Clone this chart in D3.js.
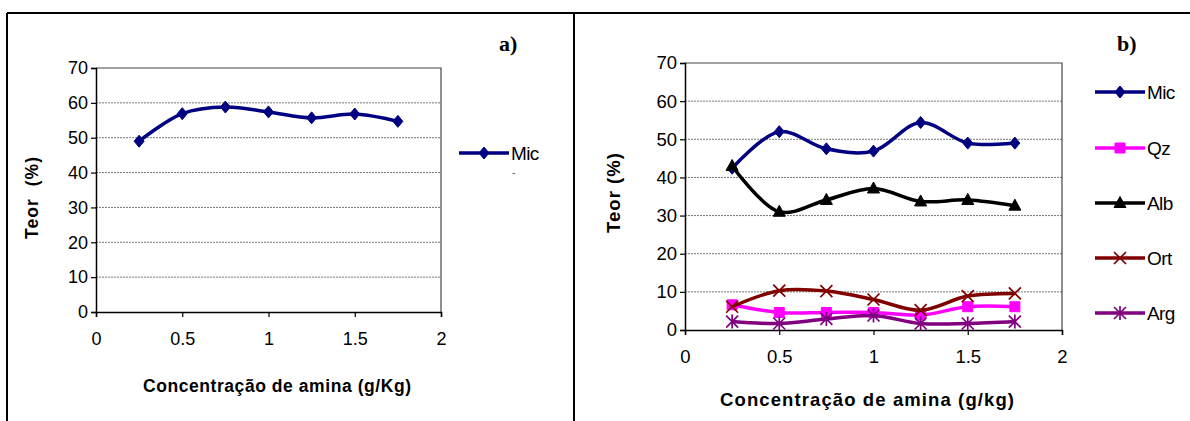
<!DOCTYPE html>
<html>
<head>
<meta charset="utf-8">
<script src="https://cdn.jsdelivr.net/npm/d3@7"></script>
<style>
  body { margin: 0; background: #fff; }
  svg { display: block; font-family: "Liberation Sans", Arial, sans-serif; }
</style>
</head>
<body>
<div id="chart"></div>
<script>
const conc = [0.25, 0.5, 0.75, 1, 1.25, 1.5, 1.75];
const xTicks = [0, 0.5, 1, 1.5, 2];
const yTicks = [0, 10, 20, 30, 40, 50, 60, 70];

// panel a
const micA = [49, 56.9, 58.8, 57.4, 55.7, 56.8, 54.7];

// panel b
const micB = [42.4, 52.0, 47.5, 46.9, 54.4, 49.0, 49.0];
const qzB  = [6.6, 4.6, 4.6, 4.6, 3.9, 6.1, 6.1];
const albB = [43.0, 31.0, 34.1, 37.1, 33.7, 34.1, 32.6];
const ortB = [6.1, 10.3, 10.2, 8.0, 5.2, 8.9, 9.6];
const argB = [2.2, 1.7, 2.9, 3.8, 1.7, 1.7, 2.2];

const svg = d3.select("#chart")
    .append("svg")
    .attr("width", 1190)
    .attr("height", 421);

// outer frame
svg.append("line").attr("x1", 7).attr("x2", 1190).attr("y1", 13).attr("y2", 13)
    .attr("stroke", "#000").attr("stroke-width", 2);
svg.append("line").attr("x1", 7).attr("x2", 7).attr("y1", 13).attr("y2", 421)
    .attr("stroke", "#000").attr("stroke-width", 2);
svg.append("line").attr("x1", 574).attr("x2", 574).attr("y1", 13).attr("y2", 421)
    .attr("stroke", "#000").attr("stroke-width", 2);

const markerPaths = {
    diamond: "M0,-6L5,0L0,6L-5,0Z",
    square: "M-5,-5H5V5H-5Z",
    triangle: "M0,-6.5L6,4.5H-6Z",
    x: "M-6,-6L6,6M6,-6L-6,6",
    asterisk: "M-6,-6L6,6M6,-6L-6,6M0,-7V7"
};

function drawMarker(g, kind, color, cx, cy) {
    const filled = kind === "diamond" || kind === "square" || kind === "triangle";
    g.append("path")
        .attr("d", markerPaths[kind])
        .attr("transform", `translate(${cx},${cy})`)
        .attr("fill", filled ? color : "none")
        .attr("stroke", color)
        .attr("stroke-width", filled ? 1 : 1.7);
}

function drawPanel(p) {
    const x = d3.scaleLinear().domain([0, 2]).range([p.left, p.right]);
    const y = d3.scaleLinear().domain([0, 70]).range([p.bottom, p.top]);

    // gridlines
    svg.append("g").selectAll("line")
        .data(yTicks.filter(v => v > 0 && v < 70))
        .join("line")
        .attr("x1", p.left).attr("x2", p.right)
        .attr("y1", d => y(d)).attr("y2", d => y(d))
        .attr("stroke", "#777").attr("stroke-width", 1)
        .attr("stroke-dasharray", "2,1");

    // plot box top / right
    svg.append("path")
        .attr("d", `M${p.left},${p.top}H${p.right}V${p.bottom}`)
        .attr("fill", "none").attr("stroke", "#444").attr("stroke-width", 1.2);

    const yAxis = svg.append("g")
        .attr("transform", `translate(${p.left},0)`)
        .call(d3.axisLeft(y).tickValues(yTicks).tickSize(5).tickPadding(3));
    const xAxis = svg.append("g")
        .attr("transform", `translate(0,${p.bottom})`)
        .call(d3.axisBottom(x).tickValues(xTicks).tickSize(5).tickPadding(p.xPad).tickFormat(d3.format("")));
    [yAxis, xAxis].forEach(a => {
        a.attr("font-size", null).attr("font-family", null);
        a.select(".domain").attr("stroke", "#000").attr("stroke-width", 1.5);
        a.selectAll(".tick line").attr("stroke", "#000").attr("stroke-width", 1.2);
        a.selectAll("text").style("font-size", p.tickFont + "px").attr("fill", "#000");
    });

    const line = d3.line()
        .x((d, i) => x(conc[i]))
        .y(d => y(d))
        .curve(d3.curveCatmullRom.alpha(0.5));

    p.series.forEach(s => {
        svg.append("path")
            .attr("d", line(s.values))
            .attr("fill", "none")
            .attr("stroke", s.color)
            .attr("stroke-width", 3.5)
            .attr("stroke-linejoin", "round");
        const mg = svg.append("g");
        s.values.forEach((v, i) => drawMarker(mg, s.marker, s.color, x(conc[i]), y(v)));
    });

    // legend
    p.series.forEach((s, i) => {
        const ly = p.legendY[i];
        svg.append("line")
            .attr("x1", p.legendX).attr("x2", p.legendX + 50)
            .attr("y1", ly).attr("y2", ly)
            .attr("stroke", s.color).attr("stroke-width", 3.5);
        drawMarker(svg, s.marker, s.color, p.legendX + 25, ly);
        svg.append("text")
            .attr("x", p.legendX + 52).attr("y", ly)
            .attr("dy", "0.36em")
            .style("font-size", "19px")
            .attr("letter-spacing", -0.6)
            .text(s.name);
    });

    // axis titles
    svg.append("text")
        .attr("transform", `translate(${p.yTitleX},${p.yTitleY}) rotate(-90)`)
        .attr("text-anchor", "middle")
        .style("font-size", p.titleFont + "px").attr("font-weight", "bold")
        .attr("xml:space", "preserve")
        .attr("textLength", p.yTitleLen).attr("lengthAdjust", "spacing")
        .text(p.yTitle);
    svg.append("text")
        .attr("x", p.xTitleX).attr("y", p.xTitleY)
        .attr("text-anchor", "middle")
        .style("font-size", p.titleFont + "px").attr("font-weight", "bold")
        .attr("textLength", p.xTitleLen).attr("lengthAdjust", "spacing")
        .text(p.xTitle);

    // panel letter
    svg.append("text")
        .attr("x", p.letterX).attr("y", p.letterY)
        .attr("font-family", "Liberation Serif, Times New Roman, serif")
        .style("font-size", "22px").attr("font-weight", "bold")
        .text(p.letter);
}

drawPanel({
    left: 96, right: 441, top: 68, bottom: 312,
    xPad: 15, tickFont: 18, titleFont: 17.5,
    series: [{ name: "Mic", values: micA, color: "#000080", marker: "diamond" }],
    legendX: 459, legendY: [153],
    yTitle: "Teor  (%)", yTitleX: 38, yTitleY: 198, yTitleLen: 82,
    xTitle: "Concentração de amina (g/Kg)", xTitleX: 277, xTitleLen: 268, xTitleY: 392,
    letter: "a)", letterX: 499, letterY: 51
});
svg.append("text").attr("x", 512).attr("y", 176).style("font-size", "10px").attr("fill", "#555").text("-");

drawPanel({
    left: 685, right: 1062, top: 63, bottom: 330,
    xPad: 15, tickFont: 18.5, titleFont: 18.5,
    series: [
        { name: "Mic", values: micB, color: "#000080", marker: "diamond" },
        { name: "Qz", values: qzB, color: "#FF00FF", marker: "square" },
        { name: "Alb", values: albB, color: "#000000", marker: "triangle" },
        { name: "Ort", values: ortB, color: "#800000", marker: "x" },
        { name: "Arg", values: argB, color: "#800080", marker: "asterisk" }
    ],
    legendX: 1095, legendY: [92, 148, 203, 258, 313],
    yTitle: "Teor (%)", yTitleX: 620, yTitleY: 193, yTitleLen: 80,
    xTitle: "Concentração de amina (g/kg)", xTitleX: 867, xTitleLen: 294, xTitleY: 406,
    letter: "b)", letterX: 1117, letterY: 51
});
</script>
</body>
</html>
